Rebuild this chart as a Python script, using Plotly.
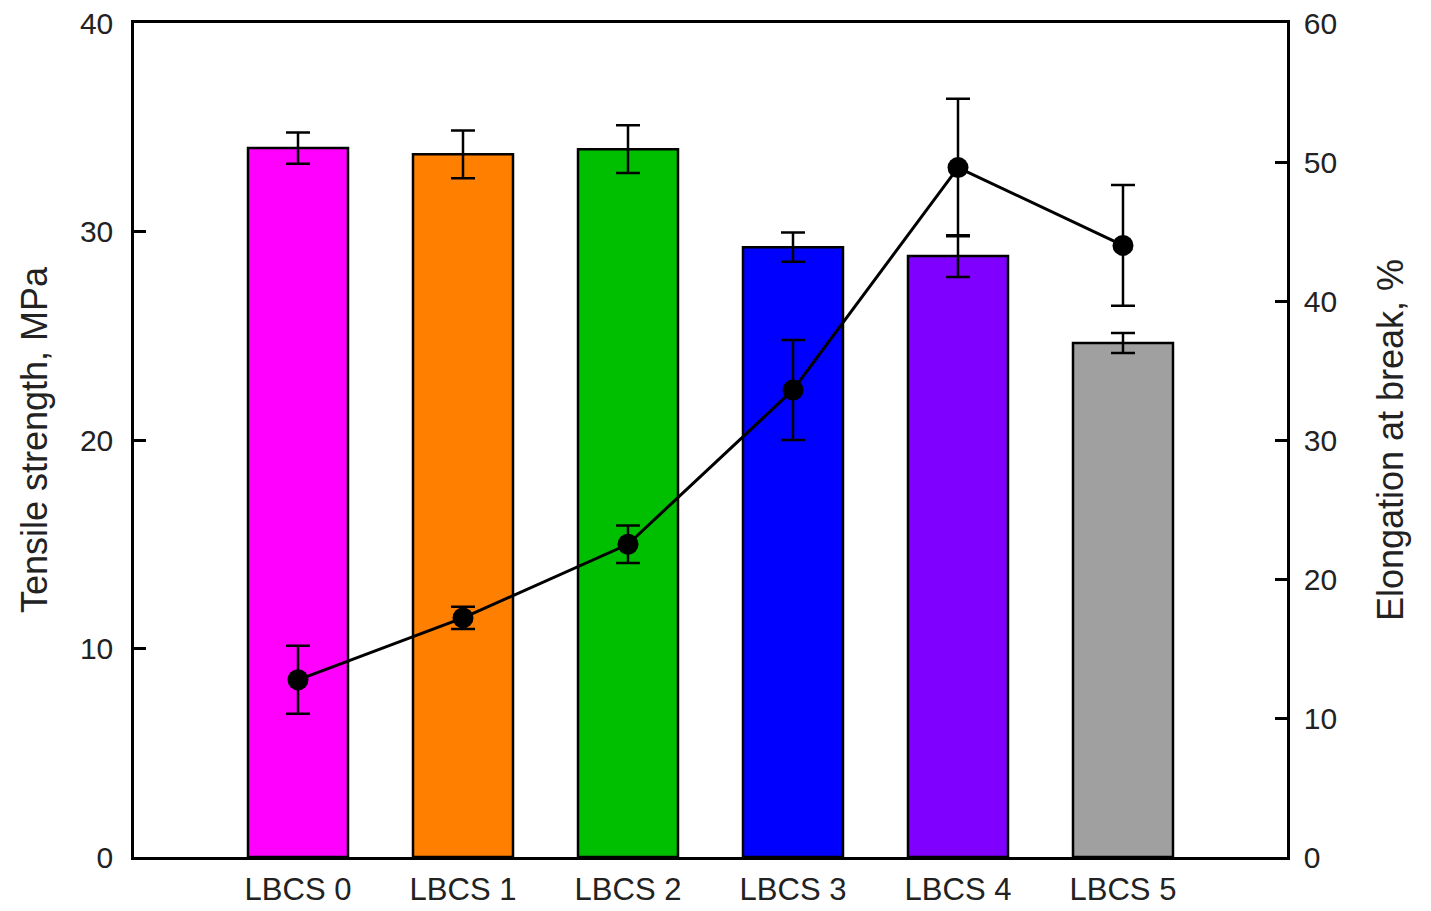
import plotly.graph_objects as go

categories = ["LBCS 0", "LBCS 1", "LBCS 2", "LBCS 3", "LBCS 4", "LBCS 5"]
tensile = [34.0, 33.7, 33.95, 29.25, 28.82, 24.65]
tensile_err = [0.75, 1.15, 1.15, 0.7, 1.0, 0.48]
elongation = [12.75, 17.2, 22.5, 33.6, 49.6, 44.0]
elongation_err = [2.45, 0.8, 1.35, 3.6, 4.95, 4.35]
bar_colors = ["#FF00FF", "#FF8000", "#00BF00", "#0000FF", "#8000FF", "#A0A0A0"]

xpos = list(range(len(categories)))
font = "Liberation Sans, Arial, sans-serif"

fig = go.Figure()
fig.add_trace(go.Bar(
    x=xpos, y=tensile, width=0.606,
    marker=dict(color=bar_colors, line=dict(color="black", width=2.5)),
    error_y=dict(type="data", array=tensile_err, visible=True,
                 color="black", thickness=2.5, width=12),
    yaxis="y", showlegend=False,
))
fig.add_trace(go.Scatter(
    x=xpos, y=elongation, mode="lines+markers",
    line=dict(color="black", width=3),
    marker=dict(color="black", size=21),
    error_y=dict(type="data", array=elongation_err, visible=True,
                 color="black", thickness=2.5, width=12),
    yaxis="y2", showlegend=False,
))

fig.update_layout(
    width=1431, height=911,
    margin=dict(l=134, r=144, t=23, b=54, autoexpand=False),
    paper_bgcolor="white", plot_bgcolor="white",
    font=dict(family=font, size=30, color="#222222"),
    xaxis=dict(
        range=[-0.994, 5.994], tickvals=xpos, ticktext=categories,
        showgrid=False, zeroline=False, showline=True, linecolor="black",
        linewidth=2.5, mirror=True, ticks="", tickfont=dict(size=31),
        automargin=False, ticklabelstandoff=3,
    ),
    yaxis=dict(
        range=[0, 40], dtick=10, showgrid=False, zeroline=False,
        showline=True, linecolor="black", linewidth=2.5,
        ticks="inside", ticklen=12, tickwidth=2.5, tickcolor="black",
        title=dict(text="Tensile strength, MPa", font=dict(size=36), standoff=22),
        tickfont=dict(size=30), automargin=False, ticklabelstandoff=12,
    ),
    yaxis2=dict(
        range=[0, 60], dtick=10, overlaying="y", side="right",
        showgrid=False, zeroline=False, showline=True, linecolor="black",
        linewidth=2.5, ticks="inside", ticklen=12, tickwidth=2.5, tickcolor="black",
        title=dict(text="Elongation at break, %", font=dict(size=36), standoff=42),
        tickfont=dict(size=30), automargin=False, ticklabelstandoff=8,
    ),
)

fig.write_html("out.html")
